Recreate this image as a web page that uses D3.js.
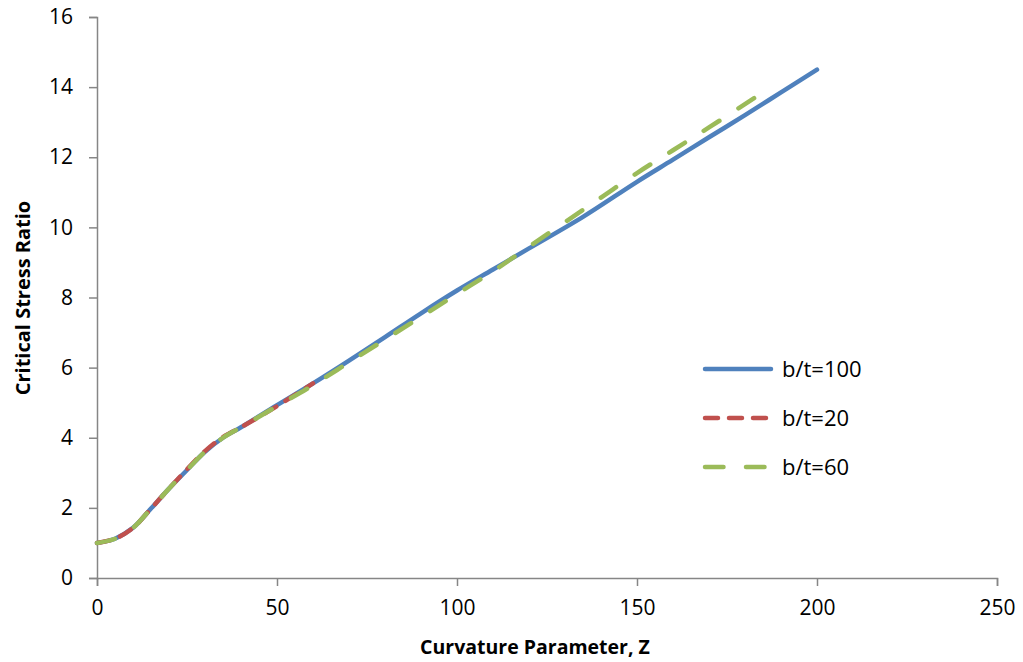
<html>
<head>
<script src="https://d3js.org/d3.v7.min.js"></script>
<style>
  body { margin: 0; background: #fff; }
  text { font-family: "Open Sans", sans-serif; }
</style>
</head>
<body>
<script>
    // data
    const z100 = [0, 5, 10, 15, 20, 25, 30, 35, 40, 50, 60, 70, 80, 90, 100, 110, 120, 135, 150, 160, 170, 180, 190, 200];
    const r100 = [1.0, 1.12, 1.43, 1.98, 2.55, 3.08, 3.6, 4.0, 4.3, 4.93, 5.55, 6.2, 6.87, 7.55, 8.2, 8.8, 9.4, 10.3, 11.3, 11.93, 12.57, 13.2, 13.85, 14.5];

    const z20 = [0, 5, 10, 15, 20, 25, 30, 35, 40, 50, 60];
    const r20 = [1.0, 1.12, 1.43, 1.98, 2.55, 3.1, 3.62, 4.02, 4.3, 4.9, 5.55];

    const z60 = [0, 5, 10, 15, 20, 25, 30, 35, 40, 50, 60, 70, 80, 90, 100, 110, 120, 130, 140, 150, 160, 170, 185];
    const r60 = [1.0, 1.12, 1.43, 1.98, 2.55, 3.08, 3.6, 4.0, 4.3, 4.9, 5.5, 6.15, 6.8, 7.45, 8.1, 8.75, 9.45, 10.15, 10.85, 11.55, 12.2, 12.85, 13.85];

    const xTicks = [0, 50, 100, 150, 200, 250];
    const yTicks = [0, 2, 4, 6, 8, 10, 12, 14, 16];

    const series = [
      { name: "b/t=100", z: z100, r: r100, color: "#4F81BD", dash: null },
      { name: "b/t=20", z: z20, r: r20, color: "#C0504D", dash: "13,11" },
      { name: "b/t=60", z: z60, r: r60, color: "#9BBB59", dash: "18.5,22.5" }
    ];

    const width = 1023;
    const height = 662;

    const svg = d3.select("body")
              .append("svg")
              .attr("width", width)
              .attr("height", height);

    const x = d3.scaleLinear().domain([0, 250]).range([97, 997]);
    const y = d3.scaleLinear().domain([0, 16]).range([578, 17]);

    // axes
    const xAxis = svg.append("g")
              .attr("transform", "translate(0,578)")
              .call(d3.axisBottom(x).tickValues(xTicks).tickSize(8).tickPadding(14));
    const yAxis = svg.append("g")
              .attr("transform", "translate(97,0)")
              .call(d3.axisLeft(y).tickValues(yTicks).tickSize(8).tickPadding(16));

    [xAxis, yAxis].forEach(function (g) {
      g.select(".domain").attr("stroke", "#868686").attr("stroke-width", 1.5);
      g.selectAll(".tick line").attr("stroke", "#868686").attr("stroke-width", 1.5);
      g.selectAll(".tick text")
        .attr("fill", "#000")
        .style("font-family", "'Open Sans', sans-serif")
        .style("font-size", "21px");
    });

    // axis titles
    svg.append("text")
              .attr("x", 535)
              .attr("y", 654)
              .attr("text-anchor", "middle")
              .style("font-size", "19.5px")
              .style("font-weight", "bold")
              .text("Curvature Parameter, Z");

    svg.append("text")
              .attr("transform", "translate(30,298) rotate(-90)")
              .attr("text-anchor", "middle")
              .style("font-size", "20px")
              .style("font-weight", "bold")
              .text("Critical Stress Ratio");

    // lines (smoothed like the original)
    const line = d3.line()
              .x(function (d) { return x(d[0]); })
              .y(function (d) { return y(d[1]); })
              .curve(d3.curveCatmullRom.alpha(0.5));

    series.forEach(function (s) {
      const pts = s.z.map(function (v, i) { return [v, s.r[i]]; });
      const p = svg.append("path")
              .attr("d", line(pts))
              .attr("fill", "none")
              .attr("stroke", s.color)
              .attr("stroke-width", 4.5)
              .attr("stroke-linecap", "round")
              .attr("stroke-linejoin", "round");
      if (s.dash) p.attr("stroke-dasharray", s.dash);
    });

    // legend
    const legend = svg.append("g");
    series.forEach(function (s, i) {
      const ly = 369 + i * 49;
      const l = legend.append("line")
              .attr("x1", 705)
              .attr("x2", 771)
              .attr("y1", ly)
              .attr("y2", ly)
              .attr("stroke", s.color)
              .attr("stroke-width", 4.5)
              .attr("stroke-linecap", "round");
      if (s.dash) l.attr("stroke-dasharray", s.dash);
      legend.append("text")
              .attr("x", 782)
              .attr("y", ly)
              .attr("dy", "0.35em")
              .style("font-size", "22px")
              .text(s.name);
    });
</script>
</body>
</html>
